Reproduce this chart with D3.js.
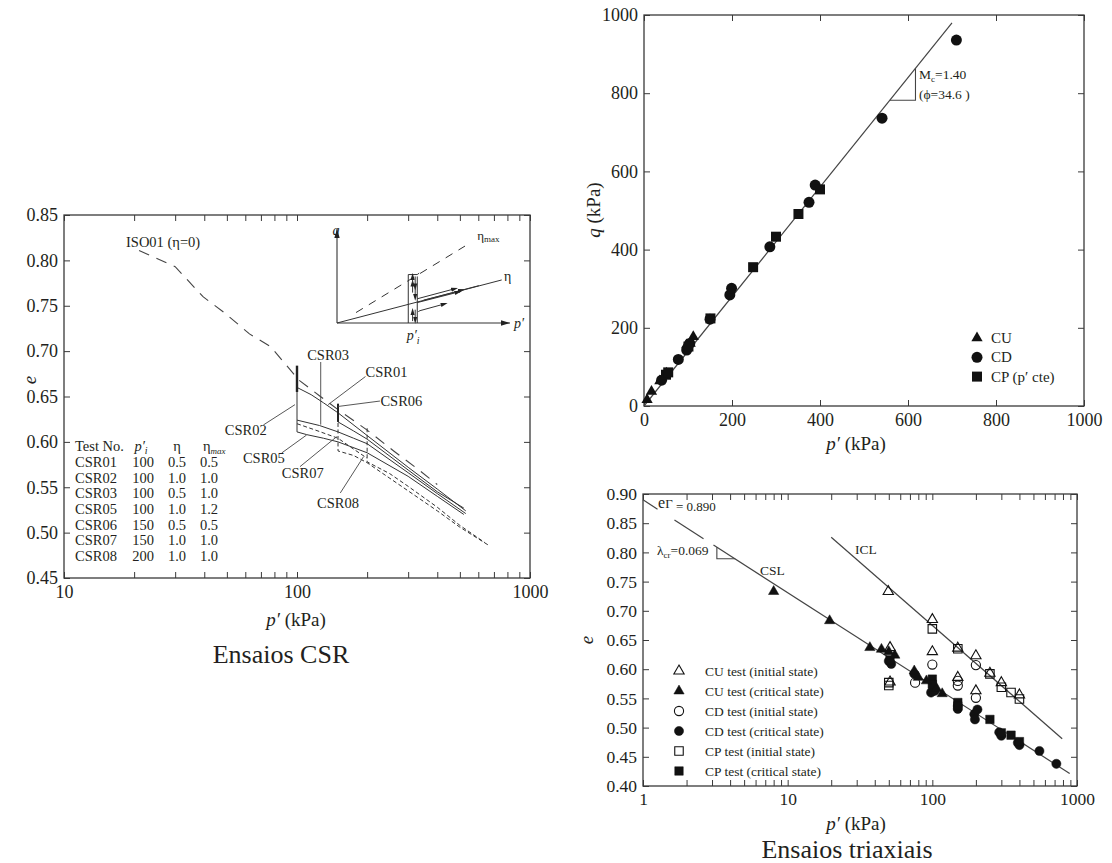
<!DOCTYPE html>
<html><head><meta charset="utf-8">
<script src="https://cdn.jsdelivr.net/npm/d3@7"></script>
<style>body{margin:0;background:#fff}svg{display:block}svg text{font-family:"Liberation Serif","DejaVu Serif","Times New Roman",serif !important}</style>
</head><body><svg id="c" width="1112" height="863"></svg>
<script>
// ===================== DATA =====================
// Panel A: CSR tests, e vs p' (log)
const csrPTicks = [10,20,30,40,50,60,70,80,90,100,200,300,400,500,600,700,800,900,1000];
const csrETicks = [0.45,0.50,0.55,0.60,0.65,0.70,0.75,0.80,0.85];
const iso01 = [[21,0.811],[30,0.793],[39.5,0.760],[49,0.742],[62.5,0.719],[77,0.705],[89,0.686],[102,0.668],[126,0.650],[151,0.635],[200,0.613],[260,0.590],[330,0.570],[400,0.553]];
const csr01 = [[100,0.683],[100,0.660],[115,0.652],[130,0.643],[150,0.632],[200,0.607],[300,0.572],[400,0.548],[530,0.524]];
const csr06 = [[150,0.642],[150,0.622],[175,0.612],[200,0.603],[300,0.569],[400,0.545],[520,0.527]];
const csr03 = [[100,0.660],[100,0.624],[125,0.618],[150,0.611],[175,0.604],[200,0.598],[300,0.566],[400,0.543],[530,0.521]];
const csr02 = [[100,0.624],[100,0.611],[110,0.608],[130,0.604],[150,0.600],[200,0.588],[300,0.562],[400,0.540],[520,0.520]];
const csr05 = [[100,0.620],[120,0.613],[150,0.604],[175,0.592],[200,0.582]];
const csr07 = [[150,0.628],[150,0.590],[175,0.585],[200,0.577],[300,0.546],[400,0.524],[500,0.506],[665,0.486]];
const csr08 = [[200,0.615],[200,0.578],[250,0.565],[300,0.551],[400,0.528],[500,0.508],[640,0.489]];
// curve labels: [text, p, e, anchor] and leader lines [[p1,e1],[p2,e2]]
const csrLabels = [["CSR03",136,0.690,"middle"],["CSR01",197,0.672,"start"],["CSR06",228,0.640,"start"],["CSR02",49,0.6076,"start"],["CSR05",58.6,0.5767,"start"],["CSR07",86,0.5602,"start"],["CSR08",122,0.5271,"start"]];
const csrLeaders = [[[126.4,0.688],[126.4,0.619]],[[196.7,0.672],[136,0.641]],[[227,0.645],[150,0.639]],[[71.7,0.6186],[98,0.641]],[[86,0.5878],[110,0.6076]],[[103,0.5727],[148,0.6057]],[[153.4,0.5437],[193,0.5837]]];
// test table
const testNo = ["CSR01","CSR02","CSR03","CSR05","CSR06","CSR07","CSR08"];
const testPi = ["100","100","100","100","150","150","200"];
const testEta = ["0.5","1.0","0.5","1.0","0.5","1.0","1.0"];
const testEtaMax = ["0.5","1.0","1.0","1.2","0.5","1.0","1.0"];

// Panel B: q vs p'
const qpTicks = [0,200,400,600,800,1000];
const cuP = [7,17,36,48,51,97,105,112];
const cuQ = [16,37,64,78,84,156,160,177];
const cdP = [40,78,97,104,150,195,199,286,375,389,541,710];
const cdQ = [66,119,143,160,222,284,301,407,521,565,736,936];
const cpP = [50,55,101,151,248,300,351,400];
const cpQ = [80,86,152,224,355,433,491,554];
const mcSlope = 1.40;
const mcRange = [0,700];

// Panel C: e vs p' (triaxial)
const triPTicks = [1,2,3,4,5,6,7,8,9,10,20,30,40,50,60,70,80,90,100,200,300,400,500,600,700,800,900,1000];
const triETicks = [0.40,0.45,0.50,0.55,0.60,0.65,0.70,0.75,0.80,0.85,0.90];
const eGamma = 0.890, lambdaCr = 0.069;
const cslSegments = [[1,1.26],[1.65,2.62],[3.07,890]];
const iclP = [20,790];
const iclE = [0.826,0.481];
const cuInitP = [49.6,51,51,100,100,150,150,200,200,250,300,400];
const cuInitE = [0.733,0.637,0.578,0.685,0.630,0.636,0.586,0.623,0.563,0.593,0.577,0.556];
const cuCritP = [8,19.5,37,44.5,50,55,75,80,91,107,117];
const cuCritE = [0.733,0.683,0.637,0.634,0.630,0.624,0.597,0.586,0.580,0.567,0.558];
const cdInitP = [76,100,150,150,200,200];
const cdInitE = [0.577,0.608,0.580,0.572,0.607,0.551];
const cdCritP = [50,52,75,98,102,104,150,150,195,197,205,290,300,390,400,550,720];
const cdCritE = [0.614,0.609,0.592,0.560,0.569,0.563,0.532,0.537,0.523,0.514,0.531,0.492,0.486,0.474,0.470,0.460,0.438];
const cpInitP = [50,50,100,150,250,300,350,400];
const cpInitE = [0.577,0.572,0.669,0.635,0.592,0.569,0.560,0.549];
const cpCritP = [51,100,100,150,150,250,300,350,400];
const cpCritE = [0.616,0.583,0.574,0.543,0.537,0.514,0.491,0.487,0.476];
const triLegend = ["CU test (initial state)","CU test (critical state)","CD test (initial state)","CD test (critical state)","CP test (initial state)","CP test (critical state)"];

// ===================== DRAW =====================
const FF = '"Liberation Serif","DejaVu Serif","Times New Roman",serif';
const INK = '#231f20', LN = '#3a3a3a';
const svg = d3.select('#c');
svg.append('rect').attr('width',1112).attr('height',863).attr('fill','#fff');
const defs = svg.append('defs');
defs.append('marker').attr('id','arr').attr('viewBox','0 0 10 6').attr('refX',10).attr('refY',3)
  .attr('markerWidth',9).attr('markerHeight',6).attr('markerUnits','userSpaceOnUse').attr('orient','auto')
  .append('path').attr('d','M0,0L10,3L0,6Z').attr('fill','#222');
defs.append('marker').attr('id','arrs').attr('viewBox','0 0 10 6').attr('refX',5).attr('refY',3)
  .attr('markerWidth',7).attr('markerHeight',5).attr('markerUnits','userSpaceOnUse').attr('orient','auto')
  .append('path').attr('d','M0,0L10,3L0,6Z').attr('fill','#222');

function txt(g,x,y,s,fs,opt={}){
  const t=g.append('text').attr('x',x).attr('y',y).style('font-family',FF).attr('font-size',fs).attr('fill',INK)
    .attr('text-anchor',opt.anchor||'start');
  if(opt.italic) t.attr('font-style','italic');
  if(opt.rotate) t.attr('transform',`rotate(${opt.rotate},${x},${y})`);
  if(s!==null) t.text(s);
  return t;
}
function axes(g,x,y,o){
  const [x0,x1]=x.range(),[y0,y1]=y.range();
  const ax=[
    g.append('g').attr('transform',`translate(0,${y0})`).call(d3.axisBottom(x).tickValues(o.xt).tickFormat(o.xf).tickSize(-o.ts).tickPadding(o.padx)),
    g.append('g').attr('transform',`translate(0,${y1})`).call(d3.axisTop(x).tickValues(o.xt).tickFormat('').tickSize(-o.ts)),
    g.append('g').attr('transform',`translate(${x0},0)`).call(d3.axisLeft(y).tickValues(o.yt).tickFormat(o.yf).tickSize(-o.ts).tickPadding(o.pady)),
    g.append('g').attr('transform',`translate(${x1},0)`).call(d3.axisRight(y).tickValues(o.yt).tickFormat('').tickSize(-o.ts))
  ];
  ax.forEach(a=>{a.attr('font-family',null).attr('font-size',o.fs);a.select('.domain').remove();
    a.selectAll('.tick line').attr('stroke',LN).attr('stroke-width',1);
    a.selectAll('.tick text').attr('fill',INK).style('font-family',FF);});
  g.append('rect').attr('x',x0).attr('y',y1).attr('width',x1-x0).attr('height',y0-y1)
    .attr('fill','none').attr('stroke',LN).attr('stroke-width',1.3);
}
function pLabel(g,x,y,fs){
  const t=txt(g,x,y,null,fs,{anchor:'middle'});
  t.append('tspan').attr('font-style','italic').text('p′');
  t.append('tspan').text(' (kPa)');
}

// ---------- Panel A ----------
const gA = svg.append('g');
const xA = d3.scaleLog().domain([10,1000]).range([64,530]);
const yA = d3.scaleLinear().domain([0.45,0.85]).range([578,215]);
axes(gA,xA,yA,{xt:csrPTicks,yt:csrETicks,ts:6,padx:7,pady:6,fs:18,
  xf:d=>[10,100,1000].includes(d)?d:'', yf:d3.format('.2f')});
const lineA = d3.line().x(d=>xA(d[0])).y(d=>yA(d[1]));
gA.append('path').attr('d',lineA(iso01)).attr('fill','none').attr('stroke','#444').attr('stroke-width',1.1).attr('stroke-dasharray','11,8');
[csr01,csr06,csr03,csr02].forEach(c=>gA.append('path').attr('d',lineA(c)).attr('fill','none').attr('stroke','#333').attr('stroke-width',1));
[csr05,csr07,csr08].forEach(c=>gA.append('path').attr('d',lineA(c)).attr('fill','none').attr('stroke','#333').attr('stroke-width',1).attr('stroke-dasharray','4,2.5'));
gA.append('path').attr('d',lineA([[100,0.684],[100,0.655]])).attr('stroke','#222').attr('stroke-width',2.4);
gA.append('path').attr('d',lineA([[150,0.642],[150,0.622]])).attr('stroke','#222').attr('stroke-width',2);
csrLeaders.forEach(l=>gA.append('path').attr('d',lineA(l)).attr('stroke','#444').attr('stroke-width',0.9).attr('fill','none'));
csrLabels.forEach(l=>txt(gA,xA(l[1]),yA(l[2]),l[0],14.5,{anchor:l[3]}));
txt(gA,126,247,'ISO01 (η=0)',14.5);
// table
const tRows=[451,467,483,498,514,530,545,561];
txt(gA,75,tRows[0],'Test No.',14.5);
{const t=txt(gA,141,tRows[0],null,14.5,{anchor:'middle'});t.append('tspan').attr('font-style','italic').text('p′');t.append('tspan').attr('font-style','italic').attr('font-size',10).attr('dy',3).text('i');}
txt(gA,177,tRows[0],'η',14.5,{anchor:'middle'});
{const t=txt(gA,203,tRows[0],null,14.5,{anchor:'start'});t.append('tspan').text('η');t.append('tspan').attr('font-style','italic').attr('font-size',9).attr('dy',3).text('max');}
testNo.forEach((n,i)=>{
  const y=tRows[i+1];
  txt(gA,75,y,n,14.5);
  txt(gA,143,y,testPi[i],14.5,{anchor:'middle'});
  txt(gA,177,y,testEta[i],14.5,{anchor:'middle'});
  txt(gA,209,y,testEtaMax[i],14.5,{anchor:'middle'});
});
txt(gA,36,380,'e',19,{anchor:'middle',italic:true,rotate:-90});
pLabel(gA,296,626,19);
txt(gA,281,663,'Ensaios CSR',26,{anchor:'middle'});

// inset schematic
const gI = gA.append('g');
const xi = d3.scaleLinear().domain([0,1]).range([337,510]);
const yi = d3.scaleLinear().domain([0,1]).range([323,228]);
const li = d3.line().x(d=>xi(d[0])).y(d=>yi(d[1]));
const seg=(pts,opt={})=>{const p=gI.append('path').attr('d',li(pts)).attr('fill','none').attr('stroke',opt.c||'#333').attr('stroke-width',opt.w||1);
  if(opt.dash)p.attr('stroke-dasharray',opt.dash); if(opt.m)p.attr('marker-end',`url(#${opt.m})`); return p;};
seg([[0,0],[0,0.99]],{m:'arr',w:1.1});
seg([[0,0],[1,0]],{m:'arr',w:1.1});
seg([[0.11,0.11],[0.74,0.81]],{dash:'8,7'});
seg([[0,0],[0.952,0.453]]);
seg([[0.5,0.24],[0.72,0.345]],{m:'arrs'}); seg([[0.72,0.345],[0.82,0.393]]);
seg([[0.464,0.255],[0.68,0.36]],{m:'arrs'});
seg([[0.464,0.215],[0.70,0.325]],{m:'arrs'});
seg([[0.47,0.12],[0.48,0.13],[0.62,0.2]],{m:'arrs'});
seg([[0.412,0],[0.412,0.51]]); seg([[0.464,0],[0.464,0.49]]);
seg([[0.412,0.51],[0.464,0.51],[0.475,0.525]]);
seg([[0.437,0.32],[0.437,0.42]],{m:'arrs'}); seg([[0.437,0.42],[0.437,0.49]],{m:'arrs'});
seg([[0.452,0.49],[0.452,0.38]],{m:'arrs'}); seg([[0.452,0.38],[0.452,0.27]],{m:'arrs'});
seg([[0.437,0.02],[0.437,0.12]],{m:'arrs'}); seg([[0.452,0.14],[0.452,0.03]],{m:'arrs'});
txt(gI,xi(0)-1,yi(1)+7,'q',14,{anchor:'middle',italic:true});
txt(gI,xi(1)+4,yi(0)+5,'p′',14,{italic:true});
txt(gI,xi(0.965),yi(0.44),'η',14);
{const t=txt(gI,xi(0.81),yi(0.87),null,13);t.append('tspan').text('η');t.append('tspan').attr('font-size',9).attr('dy',2).text('max');}
{const t=txt(gI,xi(0.44),yi(0)+17,null,14,{anchor:'middle',italic:true});t.append('tspan').text('p′');t.append('tspan').attr('font-size',10).attr('dy',4).text('i');}

// ---------- Panel B ----------
const gB = svg.append('g');
const xB = d3.scaleLinear().domain([0,1000]).range([644,1084]);
const yB = d3.scaleLinear().domain([0,1000]).range([406,15]);
axes(gB,xB,yB,{xt:qpTicks,yt:qpTicks,ts:6,padx:7,pady:6,fs:18,xf:d3.format('d'),yf:d3.format('d')});
const lineB = d3.line().x(d=>xB(d[0])).y(d=>yB(d[1]));
gB.append('path').attr('d',lineB(mcRange.map(p=>[p,mcSlope*p]))).attr('stroke','#444').attr('stroke-width',1.2).attr('fill','none');
gB.append('path').attr('d',lineB([[558.7,782],[617,782],[617,864]])).attr('stroke','#444').attr('stroke-width',1.1).attr('fill','none');
{const t=txt(gB,xB(625),yB(836),null,13.5);t.append('tspan').text('M');t.append('tspan').attr('font-size',9).attr('dy',3).text('c');t.append('tspan').attr('dy',-3).text('=1.40');}
txt(gB,xB(625),yB(786),'(ϕ=34.6  )',13.5);
const sym = (t,s)=>d3.symbol().type(t).size(s)();
const triB=sym(d3.symbolTriangle,55), cirB=sym(d3.symbolCircle,95), sqB=sym(d3.symbolSquare,100);
cuP.forEach((p,i)=>gB.append('path').attr('d',triB).attr('transform',`translate(${xB(p)},${yB(cuQ[i])})`).attr('fill','#111'));
cdP.forEach((p,i)=>gB.append('path').attr('d',cirB).attr('transform',`translate(${xB(p)},${yB(cdQ[i])})`).attr('fill','#111'));
cpP.forEach((p,i)=>gB.append('path').attr('d',sqB).attr('transform',`translate(${xB(p)},${yB(cpQ[i])})`).attr('fill','#111'));
[[triB,'CU'],[cirB,'CD'],[sqB,'CP (p′ cte)']].forEach((d,i)=>{
  const y=338+i*19.3;
  gB.append('path').attr('d',d[0]).attr('transform',`translate(977,${y})`).attr('fill','#111');
  txt(gB,991,y+5,d[1],15);
});
{const t=txt(gB,600,210,null,19,{anchor:'middle',rotate:-90});t.append('tspan').attr('font-style','italic').text('q');t.append('tspan').text(' (kPa)');}
pLabel(gB,856,450,19);

// ---------- Panel C ----------
const gC = svg.append('g');
const xC = d3.scaleLog().domain([1,1000]).range([643,1077]);
const yC = d3.scaleLinear().domain([0.40,0.90]).range([786,494]);
axes(gC,xC,yC,{xt:triPTicks,yt:triETicks,ts:6,padx:7,pady:6,fs:17.5,
  xf:d=>[1,10,100,1000].includes(d)?d:'', yf:d3.format('.2f')});
const lineC = d3.line().x(d=>xC(d[0])).y(d=>yC(d[1]));
cslSegments.forEach(s=>gC.append('path').attr('d',lineC(s.map(p=>[p,eGamma-lambdaCr*Math.log(p)]))).attr('stroke','#444').attr('stroke-width',1.2).attr('fill','none'));
gC.append('path').attr('d',lineC(iclP.map((p,i)=>[p,iclE[i]]))).attr('stroke','#444').attr('stroke-width',1.2).attr('fill','none');
gC.append('path').attr('d',lineC([[3.24,eGamma-lambdaCr*Math.log(3.24)],[3.24,0.789],[4.34,0.789]])).attr('stroke','#444').attr('stroke-width',1.1).attr('fill','none');
{const t=txt(gC,xC(1.27),yC(0.876),null,16);t.append('tspan').text('e');t.append('tspan').attr('font-size',13).text('Γ');t.append('tspan').attr('font-size',13).attr('dy',3).text(' = 0.890');}
{const t=txt(gC,xC(1.25),yC(0.7956),null,13.5);t.append('tspan').text('λ');t.append('tspan').attr('font-size',9).attr('dy',3).text('cr');t.append('tspan').attr('dy',-3).text('=0.069');}
txt(gC,xC(6.44),yC(0.761),'CSL',13.5);
txt(gC,xC(29.2),yC(0.797),'ICL',13.5);
const triC=sym(d3.symbolTriangle,46), cirC=sym(d3.symbolCircle,66), sqC=sym(d3.symbolSquare,72);
const mark=(P,E,s,filled)=>P.forEach((p,i)=>gC.append('path').attr('d',s).attr('transform',`translate(${xC(p)},${yC(E[i])})`)
   .attr('fill',filled?'#111':'none').attr('stroke','#111').attr('stroke-width',filled?0.5:1.1));
mark(cpInitP,cpInitE,sqC,false);
mark(cdInitP,cdInitE,cirC,false);
mark(cuInitP,cuInitE,triC,false);
mark(cdCritP,cdCritE,cirC,true);
mark(cpCritP,cpCritE,sqC,true);
mark(cuCritP,cuCritE,triC,true);
const legSyms=[[triC,false],[triC,true],[cirC,false],[cirC,true],[sqC,false],[sqC,true]];
triLegend.forEach((s,i)=>{
  const y=671+i*20;
  gC.append('path').attr('d',legSyms[i][0]).attr('transform',`translate(679,${y})`)
    .attr('fill',legSyms[i][1]?'#111':'none').attr('stroke','#111').attr('stroke-width',legSyms[i][1]?0.5:1.1);
  txt(gC,705,y+5,s,13.5);
});
txt(gC,593,640,'e',19,{anchor:'middle',italic:true,rotate:-90});
pLabel(gC,856,830,19);
txt(gC,847,858,'Ensaios triaxiais',26,{anchor:'middle'});
</script></body></html>
